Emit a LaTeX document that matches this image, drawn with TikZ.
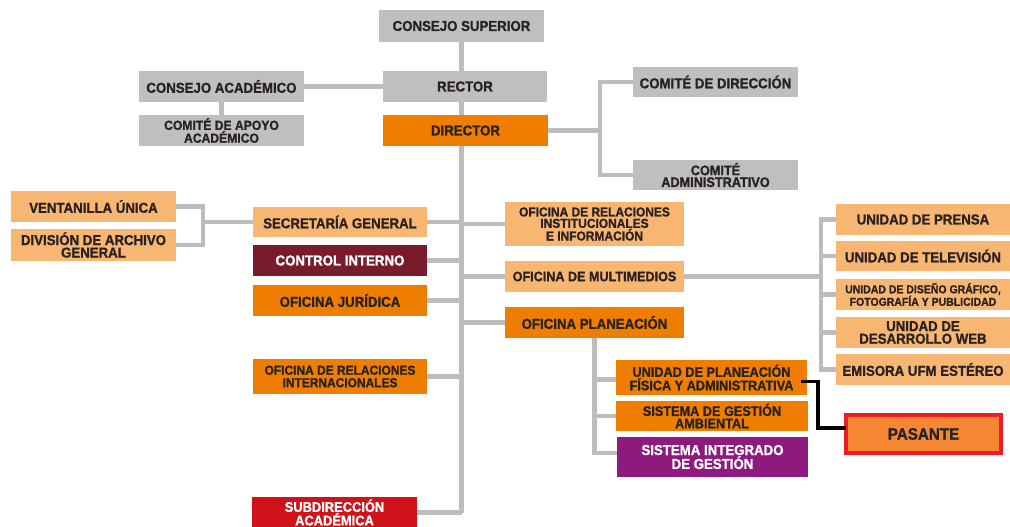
\documentclass[tikz,border=0pt]{standalone}
\usepackage{fontspec}
\newfontfamily\lbl{Liberation Sans}[FakeStretch=0.92, BoldFeatures={FakeBold=1.2}]
\newcommand{\lblsz}[2]{\fontsize{#1}{#2}\selectfont}
\definecolor{txt}{HTML}{2A2222}
\definecolor{gbox}{HTML}{BFBFBF}
\definecolor{conncol}{HTML}{BDBDBD}
\definecolor{dorange}{HTML}{EE7D00}
\definecolor{lorange}{HTML}{F8B673}
\definecolor{maroon}{HTML}{7A1B2B}
\definecolor{purp}{HTML}{8E1A7F}
\definecolor{redsub}{HTML}{D0121B}
\definecolor{porange}{HTML}{F58634}
\definecolor{pred}{HTML}{EE1C25}
\pgfdeclarelayer{bg}
\pgfsetlayers{bg,main}
\tikzset{
  box/.style={anchor=north west, inner sep=0pt, outer sep=0pt, align=center, text=txt,
    font=\lbl\bfseries\lblsz{14.4}{12}},
  graybox/.style={box, fill=gbox},
  darkbox/.style={box, fill=dorange},
  lightbox/.style={box, fill=lorange},
  conn/.style={draw=conncol, line width=4.5pt},
  blk/.style={draw=black, line width=3.5pt},
}
\begin{document}
\begin{tikzpicture}[x=1pt,y=-1pt]
\clip (0,0) rectangle (1010,527);
% top
\node[graybox, minimum width=165pt, minimum height=32pt] (cs) at (379,10) {CONSEJO SUPERIOR};
\node[graybox, minimum width=164pt, minimum height=31pt] (rec) at (383,71) {RECTOR};
\node[darkbox, minimum width=165pt, minimum height=31pt] (dir) at (383,115) {DIRECTOR};
\node[graybox, minimum width=165pt, minimum height=31pt] (ca) at (139,71) {CONSEJO ACADÉMICO};
\node[graybox, minimum width=165pt, minimum height=31pt, font=\lbl\bfseries\lblsz{13.2}{11.7}] (cap) at (139,115) {COMITÉ DE APOYO\\ACADÉMICO};
\node[graybox, minimum width=165pt, minimum height=30pt] (cd) at (633,67) {COMITÉ DE DIRECCIÓN};
\node[graybox, minimum width=165pt, minimum height=30pt, font=\lbl\bfseries\lblsz{13.8}{11.8}] (cadm) at (633,160) {COMITÉ\\ADMINISTRATIVO};
% left
\node[lightbox, minimum width=165pt, minimum height=31pt] (vu) at (11,191) {VENTANILLA ÚNICA};
\node[lightbox, minimum width=165pt, minimum height=32pt, font=\lbl\bfseries\lblsz{14.4}{12.5}] (dag) at (11,229) {DIVISIÓN DE ARCHIVO\\GENERAL};
\node[lightbox, minimum width=174pt, minimum height=30pt] (sg) at (253,207) {SECRETARÍA GENERAL};
\node[box, fill=maroon, text=white, minimum width=174pt, minimum height=31pt] (ci) at (253,245) {CONTROL INTERNO};
\node[darkbox, minimum width=174pt, minimum height=31pt] (oj) at (253,285) {OFICINA JURÍDICA};
\node[darkbox, minimum width=174pt, minimum height=35pt, font=\lbl\bfseries\lblsz{13}{12.5}] (ointl) at (253,359) {OFICINA DE RELACIONES\\INTERNACIONALES};
\node[box, fill=redsub, text=white, minimum width=165pt, minimum height=31pt, font=\lbl\bfseries\lblsz{14}{11.6}] (sub) at (252,497) {SUBDIRECCIÓN\\ACADÉMICA};
% centre right
\node[lightbox, minimum width=179pt, minimum height=44pt, font=\lbl\bfseries\lblsz{13}{11.4}] (ori) at (505,202) {OFICINA DE RELACIONES\\INSTITUCIONALES\\E INFORMACIÓN};
\node[lightbox, minimum width=179pt, minimum height=31pt, font=\lbl\bfseries\lblsz{13.7}{12}] (om) at (505,261) {OFICINA DE MULTIMEDIOS};
\node[darkbox, minimum width=179pt, minimum height=31pt] (op) at (505,307) {OFICINA PLANEACIÓN};
% units
\node[lightbox, minimum width=174pt, minimum height=31pt] (up) at (836,204) {UNIDAD DE PRENSA};
\node[lightbox, minimum width=174pt, minimum height=30pt] (ut) at (836,241) {UNIDAD DE TELEVISIÓN};
\node[lightbox, minimum width=174pt, minimum height=31pt, font=\lbl\bfseries\lblsz{11.4}{12.5}] (ud) at (836,279) {UNIDAD DE DISEÑO GRÁFICO,\\FOTOGRAFÍA Y PUBLICIDAD};
\node[lightbox, minimum width=174pt, minimum height=31pt, font=\lbl\bfseries\lblsz{14.4}{12.6}] (uw) at (836,317) {UNIDAD DE\\DESARROLLO WEB};
\node[lightbox, minimum width=174pt, minimum height=31pt] (ue) at (836,354) {EMISORA UFM ESTÉREO};
% planeacion
\node[darkbox, minimum width=191pt, minimum height=35pt, font=\lbl\bfseries\lblsz{13.8}{13.5}] (upfa) at (616,360) {UNIDAD DE PLANEACIÓN\\FÍSICA Y ADMINISTRATIVA};
\node[darkbox, minimum width=192pt, minimum height=30pt, font=\lbl\bfseries\lblsz{13.8}{12.4}] (sga) at (616,401) {SISTEMA DE GESTIÓN\\AMBIENTAL};
\node[box, fill=purp, text=white, minimum width=191pt, minimum height=40pt, font=\lbl\bfseries\lblsz{14.4}{12}] (sig) at (617,437) {SISTEMA INTEGRADO\\DE GESTIÓN};
\node[box, anchor=center, fill=porange, draw=pred, line width=4pt, minimum width=155pt, minimum height=38pt, font=\lbl\bfseries\lblsz{16.5}{14}] (pas) at (923.5,434) {PASANTE};
% connectors
\begin{pgfonlayer}{bg}
\fill[white] (0,0) rectangle (1010,527);
\draw[conn] (cs.south) -- (cs.south |- sub.east);
\draw[conn] (ca.east) -- (rec.west);
\draw[conn] (ca.south) -- (cap.north);
\coordinate (dj) at (600,130.5);
\draw[conn] (dir.east) -- (dj);
\draw[conn] (cd.west) -| (dj) |- (cadm.west);
\coordinate (lb) at (203,222);
\draw[conn] (sg.west) -- (lb);
\draw[conn] (vu.east) -| (lb) |- (dag.east);
\draw[conn] (sg.east) -- (sg.east -| cs.south);
\draw[conn] (ci.east) -- (ci.east -| cs.south);
\draw[conn] (oj.east) -- (oj.east -| cs.south);
\draw[conn] (ointl.east) -- (ointl.east -| cs.south);
\draw[conn] (sub.east) -- (sub.east -| cs.south);
\draw[conn] (ori.west) -- (ori.west -| cs.south);
\draw[conn] (om.west) -- (om.west -| cs.south);
\draw[conn] (op.west) -- (op.west -| cs.south);
\coordinate (ub) at (821,276.5);
\draw[conn] (om.east) -- (ub);
\draw[conn] (up.west) -| (ub) |- (ue.west);
\draw[conn] (ut.west) -- (ut.west -| ub);
\draw[conn] (ud.west) -- (ud.west -| ub);
\draw[conn] (uw.west) -- (uw.west -| ub);
\draw[conn] (op.south) |- ([yshift=4pt]sig.west);
\draw[conn] ([yshift=-2pt]upfa.west) -- ([yshift=-2pt]upfa.west -| op.south);
\draw[conn] (sga.west) -- (sga.west -| op.south);
\end{pgfonlayer}
\draw[blk] ([xshift=-6pt,yshift=-4pt]upfa.east) -- ++(17,0) |- ([yshift=6pt]pas.west);
\end{tikzpicture}
\end{document}
